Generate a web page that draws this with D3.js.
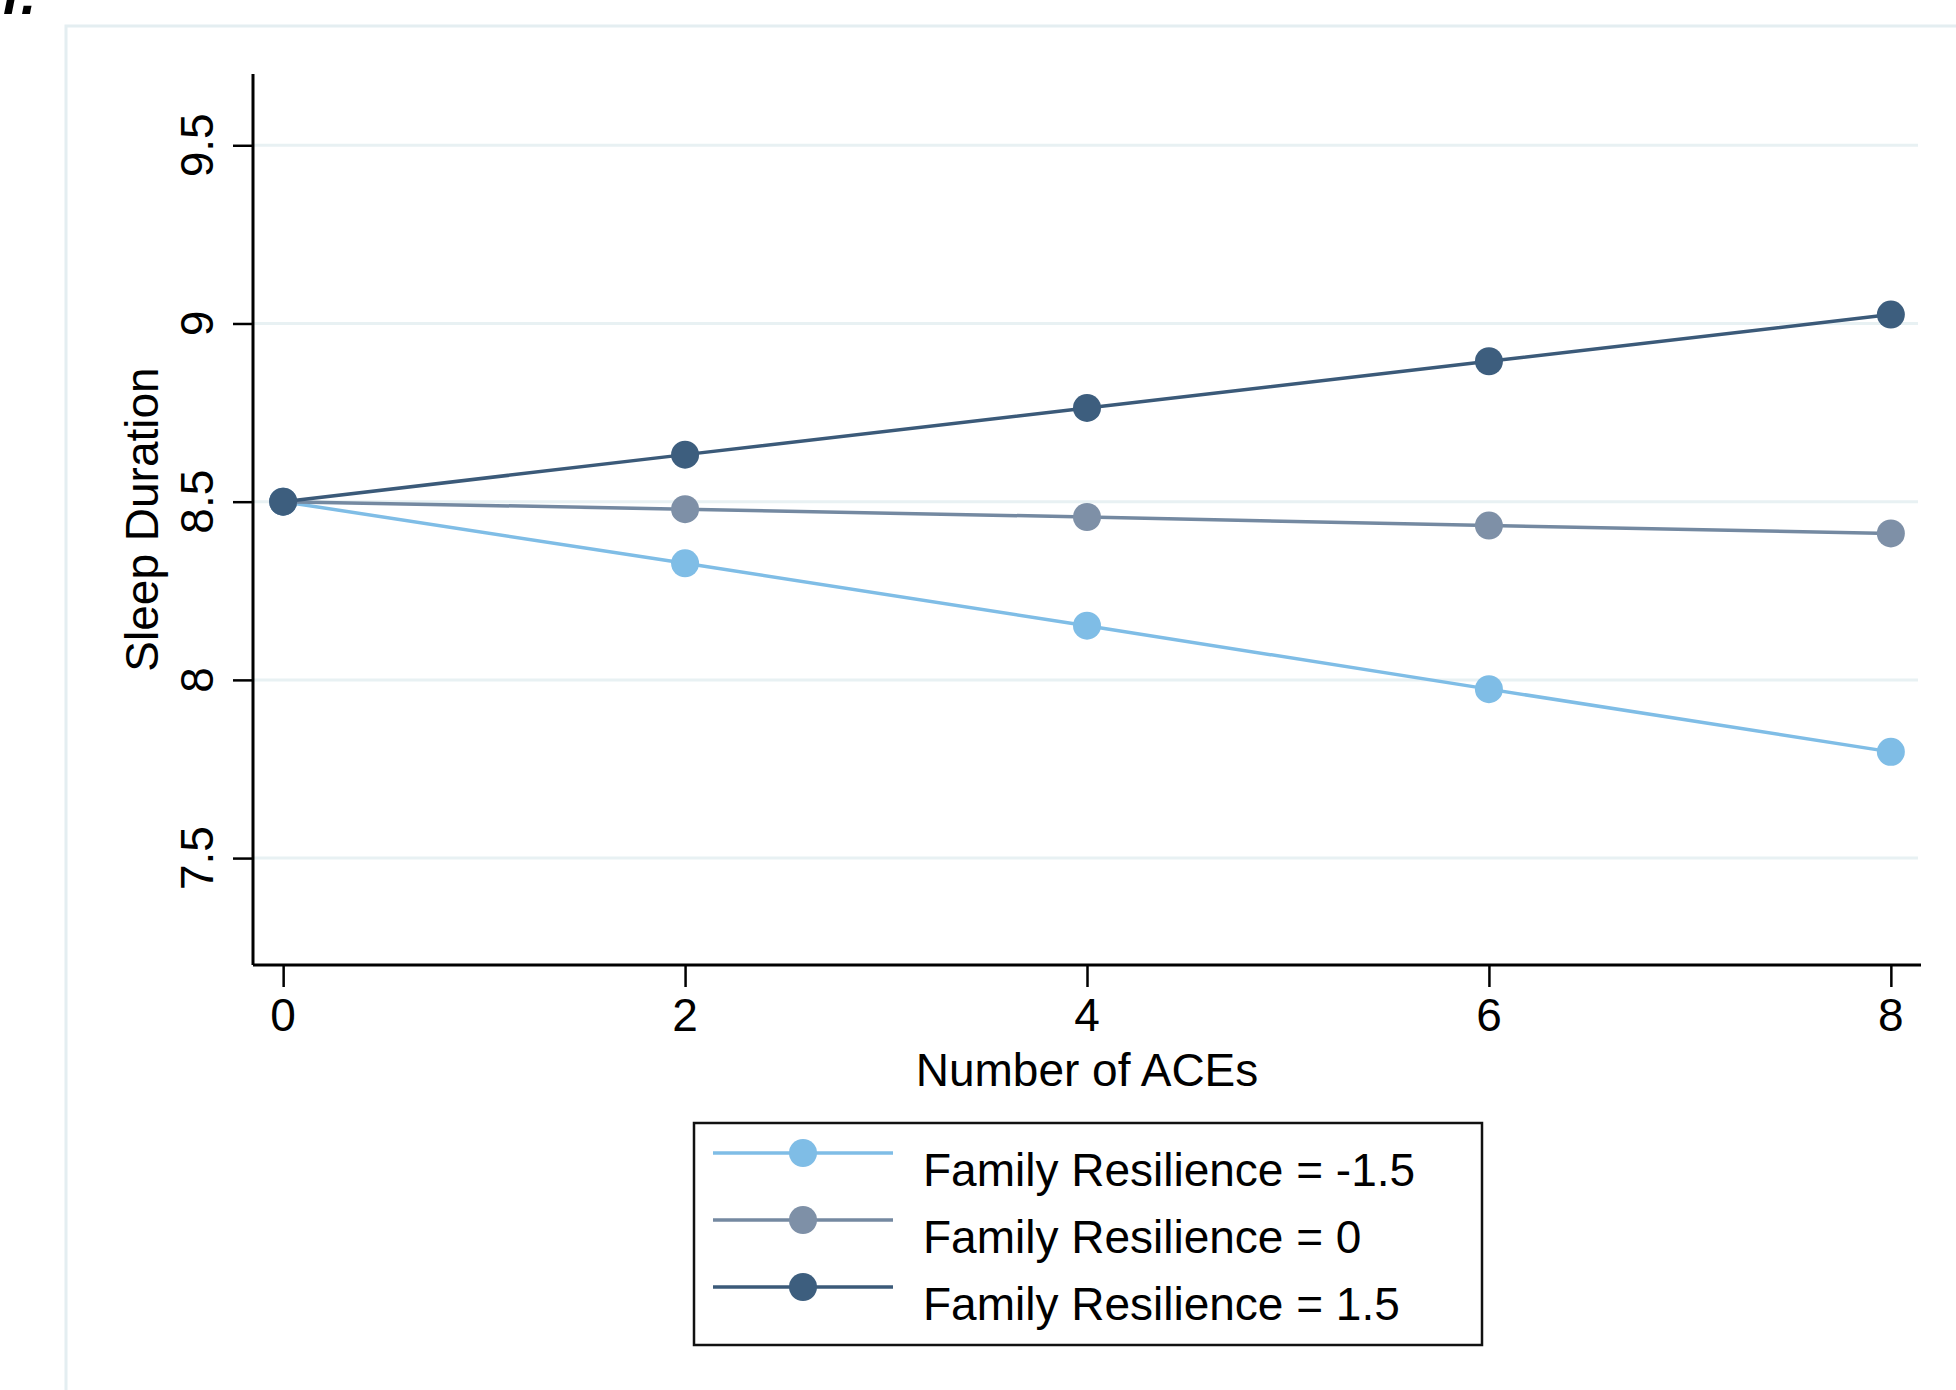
<!DOCTYPE html>
<html>
<head>
<meta charset="utf-8">
<script src="https://cdn.jsdelivr.net/npm/d3@7"></script>
<style>
  html, body { margin: 0; padding: 0; background: #fff; }
  svg { display: block; }
  text { font-family: "Liberation Sans", Arial, Helvetica, sans-serif; fill: #000; }
</style>
</head>
<body>
<svg id="chart" width="1956" height="1390"></svg>
<script>
// ---- data ----
const aces = [0, 2, 4, 6, 8];
const xTicks = [0, 2, 4, 6, 8];
const yTicks = [7.5, 8, 8.5, 9, 9.5];
const seriesNames = ["Family Resilience = -1.5", "Family Resilience = 0", "Family Resilience = 1.5"];
const lowResilience = [8.5, 8.327, 8.152, 7.974, 7.798];
const midResilience = [8.5, 8.479, 8.457, 8.433, 8.411];
const highResilience = [8.5, 8.632, 8.763, 8.894, 9.025];
const seriesColors = ["#7fbde6", "#7e90a7", "#3d5e7e"];
const lineColors = ["#7fbde6", "#7489a1", "#3b5a79"];
const xLabel = "Number of ACEs";
const yLabel = "Sleep Duration";

const seriesValues = [lowResilience, midResilience, highResilience];

const svg = d3.select("#chart");

// panel border (cropped frame)
svg.append("rect").attr("x", 66).attr("y", 26).attr("width", 2000).attr("height", 2000)
  .attr("fill", "none").attr("stroke", "#e4eef1").attr("stroke-width", 3);

// partial panel label at the top-left
svg.append("text").attr("x", 2).attr("y", 14)
  .style("font-weight", "bold").style("font-style", "italic").style("font-size", "56px")
  .text("f.");

const x = d3.scaleLinear().domain([-0.15, 8.15]).range([253, 1921]);
const y = d3.scaleLinear().domain([7.2, 9.7]).range([965, 74]);

// gridlines
svg.append("g").selectAll("line").data(yTicks).join("line")
  .attr("x1", x(-0.15)).attr("x2", x(8.135))
  .attr("y1", d => y(d)).attr("y2", d => y(d))
  .attr("stroke", "#e8f1f3").attr("stroke-width", 3);

// axes
const yAxis = d3.axisLeft(y).tickValues(yTicks).tickSize(20).tickFormat("");
const gy = svg.append("g").attr("transform", `translate(${x(-0.15)},0)`).call(yAxis);
gy.select(".domain").attr("d", `M0,${y(9.7)}V${y(7.2)}`).attr("stroke", "#000").attr("stroke-width", 3);
gy.selectAll(".tick line").attr("stroke", "#000").attr("stroke-width", 2.5);

const xAxis = d3.axisBottom(x).tickValues(xTicks).tickSize(22).tickFormat("");
const gx = svg.append("g").attr("transform", `translate(0,${y(7.2)})`).call(xAxis);
gx.select(".domain").attr("d", `M${x(-0.15)},0H${x(8.15)}`).attr("stroke", "#000").attr("stroke-width", 3);
gx.selectAll(".tick line").attr("stroke", "#000").attr("stroke-width", 2.5);

// tick labels
svg.append("g").selectAll("text").data(xTicks).join("text")
  .attr("transform", d => `translate(${x(d)},1031)`)
  .attr("text-anchor", "middle").style("font-size", "46px")
  .text(d => d);

svg.append("g").selectAll("text").data(yTicks).join("text")
  .attr("transform", d => `translate(213,${y(d)}) rotate(-90)`)
  .attr("text-anchor", "middle").style("font-size", "46px")
  .text(d => d);

// axis titles
svg.append("text")
  .attr("transform", `translate(${x(4)},1086)`)
  .attr("text-anchor", "middle").style("font-size", "46px").text(xLabel);
svg.append("text")
  .attr("transform", `translate(158,${(y(9.7) + y(7.2)) / 2}) rotate(-90)`)
  .attr("text-anchor", "middle").style("font-size", "46px").text(yLabel);

// series
const line = d3.line().x((d, i) => x(aces[i])).y(d => y(d));
const series = svg.append("g").selectAll("g").data(seriesValues).join("g");
series.append("path")
  .attr("d", d => line(d))
  .attr("fill", "none").attr("stroke", (d, i) => lineColors[i]).attr("stroke-width", 3.5);
series.each(function (vals, si) {
  d3.select(this).selectAll("circle").data(vals).join("circle")
    .attr("cx", (d, i) => x(aces[i])).attr("cy", d => y(d)).attr("r", 14)
    .attr("fill", seriesColors[si]);
});

// legend
const legend = svg.append("g");
legend.append("rect").attr("x", 694).attr("y", 1123).attr("width", 788).attr("height", 222)
  .attr("fill", "#fff").attr("stroke", "#111").attr("stroke-width", 2.5);
const rowY = [1153, 1220, 1287];
const rows = legend.selectAll("g.row").data(seriesNames).join("g").attr("class", "row");
rows.append("line").attr("x1", 713).attr("x2", 893)
  .attr("y1", (d, i) => rowY[i]).attr("y2", (d, i) => rowY[i])
  .attr("stroke", (d, i) => lineColors[i]).attr("stroke-width", 3.5);
rows.append("circle").attr("cx", 803).attr("cy", (d, i) => rowY[i]).attr("r", 14)
  .attr("fill", (d, i) => seriesColors[i]);
rows.append("text")
  .attr("transform", (d, i) => `translate(923,${rowY[i] + 33})`)
  .style("font-size", "46px").text(d => d);
</script>
</body>
</html>
